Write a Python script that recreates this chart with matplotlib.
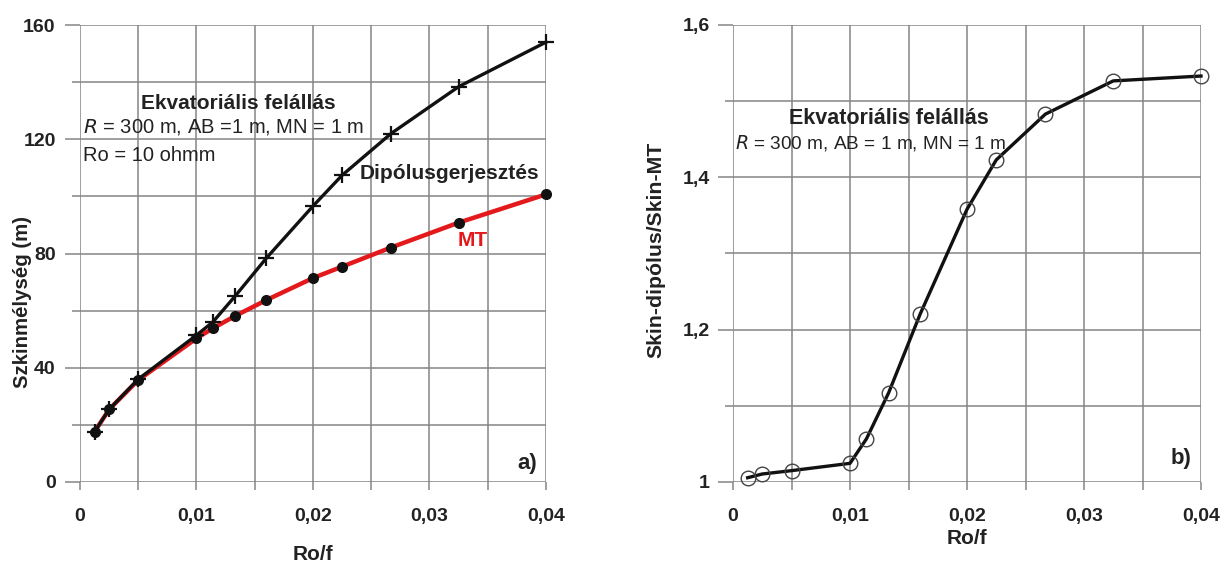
import matplotlib
matplotlib.use("Agg")
import matplotlib.pyplot as plt
from matplotlib.ticker import MultipleLocator, FuncFormatter

plt.rcParams['font.family'] = ['Liberation Sans', 'DejaVu Sans']

# ---- data ----
ro_f = [0.00125, 0.0025, 0.005, 0.01, 0.0114, 0.0133, 0.016, 0.02, 0.0225, 0.0267, 0.0325, 0.04]
skin_dipole = [17.6, 25.4, 36.0, 51.4, 56.0, 65.0, 78.4, 96.6, 107.4, 122.0, 138.4, 154.0]
skin_mt = [17.6, 25.4, 35.7, 50.3, 53.8, 58.1, 63.7, 71.4, 75.4, 82.1, 90.8, 100.7]
ratio = [1.0056, 1.0105, 1.0149, 1.0245, 1.0565, 1.117, 1.2206, 1.358, 1.4229, 1.483, 1.5266, 1.533]

W, H = 1223, 563
fig = plt.figure(figsize=(W / 100, H / 100), dpi=100)

def px_axes(l, t, r, b):
    return fig.add_axes([l / W, 1 - b / H, (r - l) / W, (b - t) / H])

axA = px_axes(80, 25, 546, 482)
axB = px_axes(733, 25, 1201, 482)

GRID = '#858585'
TXT = '#222222'

def comma_fmt(v, pos):
    if abs(v) < 1e-12:
        return '0'
    return ('%g' % round(v, 6)).replace('.', ',')

def style(ax, ymajor, yminor, ypad):
    for sp in ax.spines.values():
        sp.set_visible(False)
    ax.xaxis.set_major_locator(MultipleLocator(0.01))
    ax.xaxis.set_minor_locator(MultipleLocator(0.005))
    ax.yaxis.set_major_locator(MultipleLocator(ymajor))
    ax.yaxis.set_minor_locator(MultipleLocator(yminor))
    ax.grid(True, which='both', color=GRID, linewidth=1.1)
    ax.set_axisbelow(True)
    ax.tick_params(axis='x', which='both', length=6, width=1.1, color=GRID,
                   labelsize=14, labelcolor=TXT, pad=13)
    ax.tick_params(axis='y', which='major', length=10.5, width=1.1, color=GRID,
                   labelsize=14, labelcolor=TXT, pad=ypad)
    ax.tick_params(axis='y', which='minor', length=5.5, width=1.1, color=GRID)
    ax.xaxis.set_major_formatter(FuncFormatter(comma_fmt))
    ax.yaxis.set_major_formatter(FuncFormatter(comma_fmt))
    for lab in ax.get_xticklabels() + ax.get_yticklabels():
        lab.set_fontweight('bold')

# ---- panel a ----
axA.set_xlim(0, 0.04)
axA.set_ylim(0, 160)
style(axA, 40, 20, 7)
axA.plot(ro_f, skin_mt, color='#e3191c', linewidth=3.2, zorder=3,
         marker='o', markersize=7, markerfacecolor='#111111',
         markeredgecolor='#111111', clip_on=False)
axA.plot(ro_f, skin_dipole, color='#111111', linewidth=2.4, zorder=4,
         marker='+', markersize=12, markeredgewidth=1.6, clip_on=False)

axA.text(0.0136, 132.5, 'Ekvatoriális felállás', fontsize=15, fontweight='bold',
         color=TXT, ha='center', va='center')
axA.text(0.0003, 124.2, r'$\mathit{R}$ = 300 m, AB =1 m, MN = 1 m', fontsize=14.5,
         color=TXT, ha='left', va='center')
axA.text(0.0003, 114.3, 'Ro = 10 ohmm', fontsize=14.5, color=TXT, ha='left', va='center')
axA.text(0.0240, 108.0, 'Dipólusgerjesztés', fontsize=15, fontweight='bold',
         color=TXT, ha='left', va='center')
axA.text(0.0337, 84.7, 'MT', fontsize=15, fontweight='bold', color='#e3191c',
         ha='center', va='center')
axA.text(0.0384, 6.6, 'a)', fontsize=16, fontweight='bold', color=TXT,
         ha='center', va='center')

# ---- panel b ----
axB.set_xlim(0, 0.04)
axB.set_ylim(1.0, 1.6)
style(axB, 0.2, 0.1, 6)
axB.plot(ro_f, ratio, color='#111111', linewidth=2.4, zorder=3,
         marker='o', markersize=10.5, markerfacecolor='none',
         markeredgecolor='#444444', markeredgewidth=1.0, clip_on=False)
axB.text(0.01334, 1.4775, 'Ekvatoriális felállás', fontsize=15.5, fontweight='bold',
         color=TXT, ha='center', va='center')
axB.text(0.00016, 1.4446, r'$\mathit{R}$ = 300 m, AB = 1 m, MN = 1 m', fontsize=13.7,
         color=TXT, ha='left', va='center')
axB.text(0.0383, 1.0315, 'b)', fontsize=16, fontweight='bold', color=TXT,
         ha='center', va='center')

# axis labels
fig.text(313 / W, 1 - 554 / H, 'Ro/f', fontsize=15, fontweight='bold', color=TXT,
         ha='center', va='center')
fig.text(967 / W, 1 - 539 / H, 'Ro/f', fontsize=15, fontweight='bold', color=TXT,
         ha='center', va='center')
fig.text(22 / W, 1 - 302 / H, 'Szkinmélység (m)', fontsize=14.7, fontweight='bold',
         color=TXT, ha='center', va='center', rotation=90)
fig.text(656 / W, 1 - 250 / H, 'Skin-dipólus/Skin-MT', fontsize=15.3, fontweight='bold',
         color=TXT, ha='center', va='center', rotation=90)

fig.savefig('out.png', dpi=100, facecolor='white')
